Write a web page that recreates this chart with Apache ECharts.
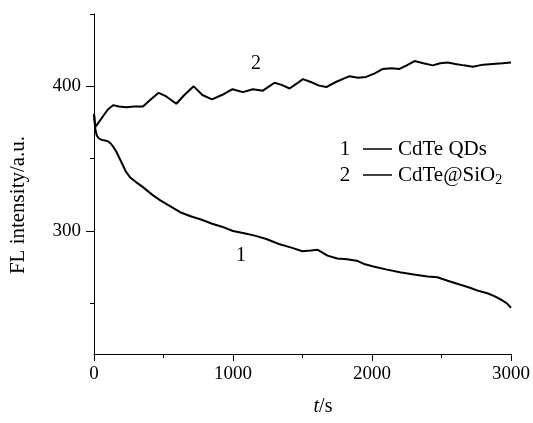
<!DOCTYPE html>
<html>
<head>
<meta charset="utf-8">
<title>FL intensity</title>
<script src="https://cdn.jsdelivr.net/npm/echarts@6/dist/echarts.min.js"></script>
<style>
    html, body {margin: 0; padding: 0; background: #fff;}
    #chart {width: 533px; height: 423px;}
</style>
</head>
<body>
<div id="chart"></div>
<script>
// 曲线1 CdTe QDs
var qdTime = [0, 5, 10, 20, 35, 55, 80, 100, 120, 140, 160, 180, 200, 230, 260, 300, 350, 420, 480, 550, 620, 700, 770, 850, 920, 1000, 1080, 1150, 1240, 1330, 1420, 1500, 1560, 1610, 1680, 1750, 1820, 1890, 1950, 2010, 2100, 2200, 2300, 2400, 2470, 2550, 2630, 2700, 2770, 2830, 2880, 2930, 2970, 3000];
var qdValue = [381, 375, 370, 366, 364, 363, 362.5, 362, 360.5, 358, 355, 351, 347, 341, 337, 334, 330.5, 325, 321, 317, 313, 310, 308, 305, 303, 300, 298.5, 297, 294.5, 291, 288.5, 286, 286.5, 287, 283, 281, 280.5, 279.5, 277, 275.5, 273.5, 271.5, 270, 268.5, 268, 265.5, 263, 261, 258.5, 257, 255, 252.5, 250, 247];
// 曲线2 CdTe@SiO2
var sioTime = [0, 5, 10, 20, 40, 70, 100, 137, 180, 230, 290, 352, 410, 465, 520, 592, 650, 717, 780, 848, 920, 997, 1071, 1143, 1215, 1260, 1299, 1350, 1407, 1460, 1503, 1560, 1620, 1671, 1740, 1800, 1838, 1900, 1958, 2020, 2078, 2140, 2198, 2250, 2306, 2370, 2437, 2490, 2545, 2600, 2660, 2725, 2800, 2868, 2940, 3000];
var sioValue = [381, 376, 372, 373, 376, 380, 384, 387, 386, 385.5, 386, 386, 391, 395.5, 393, 388, 394, 400, 394, 391, 394, 398, 396, 398, 397, 400, 402.5, 401, 398.5, 402, 405, 403, 400.5, 399.5, 403, 405.5, 407, 406, 406.5, 409, 412, 412.5, 412, 414.5, 417.5, 416, 414.5, 416, 416.5, 415.5, 414.5, 413.5, 415, 415.5, 416, 416.5];
// 刻度
var xTicks = [0, 1000, 2000, 3000];
var yMajorTicks = [300, 400];
var yMinorTicks = [250, 350, 450];

var font = 'Liberation Serif';

function pairs(xs, ys) {
    return xs.map(function (x, i) { return [x, ys[i]]; });
}

function label(x, y, text, size, align) {
    return {type: 'text', x: x, y: y,
        style: {text: text, font: size + 'px "Liberation Serif"', fill: '#000', align: align || 'center', verticalAlign: 'middle'}};
}

var myChart = echarts.init(document.getElementById('chart'));
var option = {
    animation: false,
    grid: {left: 94, right: 21, top: 14, bottom: 69},
    xAxis: {
        type: 'value',
        min: xTicks[0],
        max: xTicks[xTicks.length - 1],
        interval: 1000,
        axisLine: {lineStyle: {color: '#000', width: 1}},
        axisTick: {length: 7, lineStyle: {color: '#000'}},
        minorTick: {show: true, splitNumber: 2, length: 4, lineStyle: {color: '#000'}},
        splitLine: {show: false},
        axisLabel: {color: '#000', fontSize: 19, fontFamily: font, margin: 11,
            formatter: function (v) { return String(v); }}
    },
    yAxis: [{
        type: 'value',
        min: 215,
        max: 450,
        axisLine: {show: true, lineStyle: {color: '#000', width: 1}},
        axisTick: {show: true, length: 8, customValues: yMajorTicks, lineStyle: {color: '#000'}},
        axisLabel: {color: '#000', fontSize: 19, fontFamily: font, margin: 13, customValues: yMajorTicks},
        splitLine: {show: false}
    }, {
        type: 'value',
        position: 'left',
        min: 215,
        max: 450,
        axisLine: {show: false},
        axisTick: {show: true, length: 4, customValues: yMinorTicks, lineStyle: {color: '#000'}},
        axisLabel: {show: false},
        splitLine: {show: false}
    }],
    series: [{
        name: 'CdTe QDs',
        type: 'line',
        showSymbol: false,
        data: pairs(qdTime, qdValue),
        lineStyle: {color: '#000', width: 2}
    }, {
        name: 'CdTe@SiO2',
        type: 'line',
        showSymbol: false,
        data: pairs(sioTime, sioValue),
        lineStyle: {color: '#000', width: 2}
    }],
    graphic: [
        // 坐标轴标题
        {type: 'text', x: 18, y: 205, rotation: Math.PI / 2,
            style: {text: 'FL intensity/a.u.', font: '21px "Liberation Serif"', fill: '#000', align: 'center', verticalAlign: 'middle'}},
        {type: 'text', x: 323, y: 407,
            style: {text: '{i|t}{n|/s}', fill: '#000', align: 'center', verticalAlign: 'middle',
                rich: {i: {fontStyle: 'italic', fontSize: 20, fontFamily: font}, n: {fontSize: 20, fontFamily: font}}}},
        // 曲线标注
        label(256, 64, '2', 20),
        label(241, 256, '1', 20),
        // 图例
        label(345, 149, '1', 21),
        {type: 'line', shape: {x1: 363, y1: 149, x2: 392, y2: 149}, style: {stroke: '#000', lineWidth: 1.5}},
        label(398, 149, 'CdTe QDs', 21, 'left'),
        label(345, 175, '2', 21),
        {type: 'line', shape: {x1: 363, y1: 175, x2: 392, y2: 175}, style: {stroke: '#000', lineWidth: 1.5}},
        {type: 'text', x: 398, y: 175,
            style: {text: '{a|CdTe@SiO}{s|2}', fill: '#000', align: 'left', verticalAlign: 'middle',
                rich: {a: {fontSize: 21, fontFamily: font, lineHeight: 24}, s: {fontSize: 14, fontFamily: font, lineHeight: 24, verticalAlign: 'bottom', padding: [12, 0, 0, 0]}}}}
    ]
};
myChart.setOption(option);
</script>
</body>
</html>
